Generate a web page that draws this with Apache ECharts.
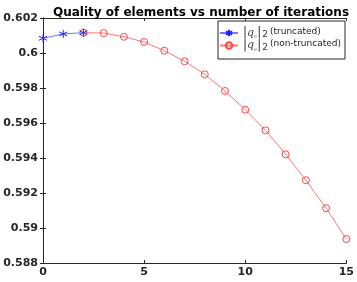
<!DOCTYPE html>
<html><head><meta charset="utf-8">
<script src="https://cdn.jsdelivr.net/npm/echarts@6/dist/echarts.min.js"></script>
<style>html,body{margin:0;padding:0;background:#fff}#c{width:357px;height:282px}</style>
</head><body><div id="c"></div>
<script>
const truncX = [0, 1, 2];
const truncY = [0.60084, 0.60109, 0.60116];
const nonTruncX = [2, 3, 4, 5, 6, 7, 8, 9, 10, 11, 12, 13, 14, 15];
const nonTruncY = [0.60116, 0.60114, 0.60093, 0.60063, 0.60013, 0.59953, 0.59878, 0.59783, 0.59676, 0.59558, 0.59421, 0.59273, 0.59113, 0.58937];
const xTicks = [0, 5, 10, 15];
const yTicks = [0.588, 0.590, 0.592, 0.594, 0.596, 0.598, 0.600, 0.602];
const titleText = 'Quality of elements vs number of iterations';
const legendNames = ['truncated', 'non-truncated'];

const FONT = 'DejaVu Sans';
const chart = echarts.init(document.getElementById('c'));
const star = 'path://M0,-5L0,5M-4.3,-2.5L4.3,2.5M-4.3,2.5L4.3,-2.5';
const rich = {
  b: {fontFamily: FONT, fontSize: 12, color: '#333'},
  q: {fontFamily: 'DejaVu Serif', fontStyle: 'italic', fontSize: 11, color: '#444'},
  s: {fontFamily: FONT, fontSize: 5, color: '#777', padding: [8, 0, 0, 0]},
  d: {fontFamily: FONT, fontSize: 9, color: '#333', padding: [4, 0, 0, 1]},
  t: {fontFamily: FONT, fontSize: 9, color: '#222', padding: [0, 0, 3, 2]}
};
const axisCommon = {
  axisLine: {show: true, lineStyle: {color: '#262626', width: 1}},
  axisTick: {show: true, inside: true, length: 3, lineStyle: {color: '#262626'}},
  splitLine: {show: false}
};
chart.setOption({
  animation: false,
  backgroundColor: '#fff',
  title: {text: titleText, left: 196, top: 2, textAlign: 'center',
    textStyle: {fontFamily: FONT, fontWeight: 'bold', fontSize: 12, color: '#000'}},
  grid: {left: 43, right: 10, top: 18, bottom: 19, containLabel: false},
  legend: {
    right: 12, top: 21, orient: 'vertical', itemGap: 0, itemWidth: 18, itemHeight: 8,
    backgroundColor: '#fff', borderColor: '#262626', borderWidth: 1, padding: [6, 4, 7, 1],
    data: legendNames,
    formatter: n => '{b||}{q|q}{s|e}{b||}{d|2}{t|(' + n + ')}',
    textStyle: {rich: rich}
  },
  xAxis: [
    Object.assign({type: 'value', min: 0, max: 15, interval: 5, position: 'bottom',
      axisLabel: {fontFamily: FONT, fontWeight: 'bold', fontSize: 11, color: '#262626', margin: 4,
        customValues: xTicks}}, axisCommon),
    Object.assign({type: 'value', min: 0, max: 15, interval: 5, position: 'top',
      axisLabel: {show: false}}, axisCommon)
  ],
  yAxis: [
    Object.assign({type: 'value', min: 0.588, max: 0.602, interval: 0.002, position: 'left',
      axisLabel: {fontFamily: FONT, fontWeight: 'bold', fontSize: 11, color: '#262626', margin: 5,
        formatter: v => String(parseFloat(v.toFixed(3)))}}, axisCommon),
    Object.assign({type: 'value', min: 0.588, max: 0.602, interval: 0.002, position: 'right',
      axisLabel: {show: false}}, axisCommon)
  ],
  series: [
    {name: legendNames[0], type: 'line', xAxisIndex: 0, yAxisIndex: 0,
      data: truncX.map((x, i) => [x, truncY[i]]),
      symbol: star, symbolSize: 8, showAllSymbol: true,
      lineStyle: {color: '#7777ff', width: 1}, color: '#2222ff',
      itemStyle: {color: '#2222ff', borderColor: '#2222ff', borderWidth: 1}, z: 3},
    {name: legendNames[1], type: 'line', xAxisIndex: 0, yAxisIndex: 0,
      data: nonTruncX.map((x, i) => [x, nonTruncY[i]]),
      symbol: 'circle', symbolSize: 7, showAllSymbol: true,
      lineStyle: {color: '#ff7777', width: 1}, color: '#ff4040',
      itemStyle: {color: 'rgba(255,255,255,0)', borderColor: '#ff4444', borderWidth: 1}, z: 2}
  ]
});
</script></body></html>
